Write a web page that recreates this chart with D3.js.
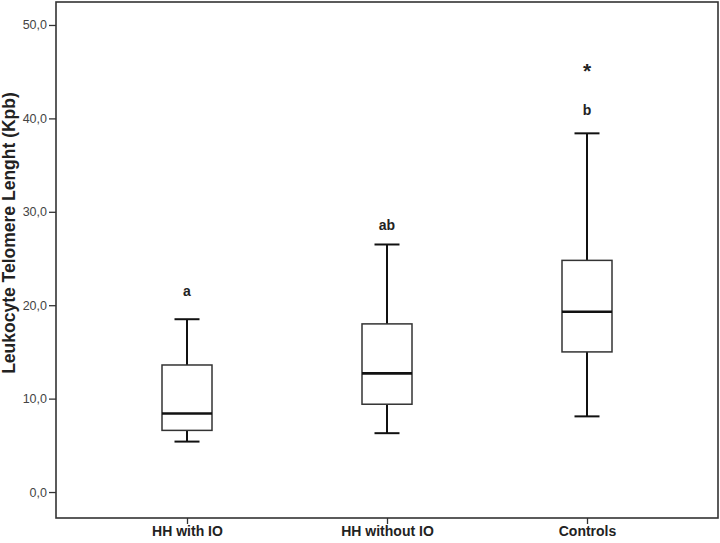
<!DOCTYPE html>
<html>
<head>
<meta charset="utf-8">
<script src="https://cdn.jsdelivr.net/npm/d3@7"></script>
<style>
	body { margin: 0; background: #fff; }
	svg { display: block; font-family: "Liberation Sans", Arial, sans-serif; }
</style>
</head>
<body>
<div id="chart"></div>
<script>
	// data
	var groups = ['HH with IO', 'HH without IO', 'Controls'];
	var whiskerLow = [5.4, 6.3, 8.1];
	var q1 = [6.6, 9.4, 15.0];
	var median = [8.4, 12.7, 19.3];
	var q3 = [13.6, 18.0, 24.8];
	var whiskerHigh = [18.5, 26.5, 38.4];
	var letters = ['a', 'ab', 'b'];
	var letterAt = [21.5, 28.6, 40.9];
	var extremes = [[], [], [45.5]];
	var yTicks = [0, 10, 20, 30, 40, 50];

	var width = 720, height = 543;
	var margin = { top: 2, right: 2, bottom: 25, left: 56 };

	var svg = d3.select('#chart').append('svg')
		.attr('width', width).attr('height', height);

	var x = d3.scalePoint()
		.domain(groups)
		.range([margin.left, width - margin.right])
		.padding(0.655);

	var y = d3.scaleLinear()
		.domain([-2.78, 52.46])
		.range([height - margin.bottom, margin.top]);

	var boxes = groups.map((g, i) => ({
		name: g,
		lo: whiskerLow[i], q1: q1[i], med: median[i], q3: q3[i], hi: whiskerHigh[i],
		letter: letters[i], letterAt: letterAt[i], extremes: extremes[i]
	}));

	var boxW = 50, capW = 25;

	// frame
	svg.append('rect')
		.attr('x', margin.left).attr('y', margin.top)
		.attr('width', width - margin.left - margin.right)
		.attr('height', height - margin.top - margin.bottom)
		.attr('fill', 'none').attr('stroke', '#333').attr('stroke-width', 1.6);

	// axes
	var yAxis = svg.append('g')
		.attr('transform', 'translate(' + margin.left + ',0)')
		.call(d3.axisLeft(y).tickValues(yTicks).tickSize(7).tickPadding(2)
			.tickFormat(d => d3.format('.1f')(d).replace('.', ',')));
	yAxis.select('.domain').remove();
	yAxis.selectAll('line').attr('stroke', '#333').attr('stroke-width', 1.3);
	yAxis.selectAll('text').attr('fill', '#444').style('font-size', '12.5px');

	var xAxis = svg.append('g')
		.attr('transform', 'translate(0,' + (height - margin.bottom) + ')')
		.call(d3.axisBottom(x).tickSize(6).tickPadding(2));
	xAxis.select('.domain').remove();
	xAxis.selectAll('line').attr('stroke', '#333').attr('stroke-width', 1.3);
	xAxis.selectAll('text').attr('fill', '#222')
		.style('font-size', '14px').style('font-weight', 'bold');

	// y title
	svg.append('text')
		.attr('transform', 'translate(15,233) rotate(-90)')
		.attr('text-anchor', 'middle')
		.style('font-size', '17.5px').style('font-weight', 'bold')
		.attr('fill', '#222')
		.text('Leukocyte Telomere Lenght (Kpb)');

	var g = svg.selectAll('.box').data(boxes).enter().append('g')
		.attr('class', 'box')
		.attr('transform', d => 'translate(' + x(d.name) + ',0)');

	// whiskers
	g.append('line')
		.attr('y1', d => y(d.q3)).attr('y2', d => y(d.hi))
		.attr('stroke', '#111').attr('stroke-width', 2);
	g.append('line')
		.attr('y1', d => y(d.q1)).attr('y2', d => y(d.lo))
		.attr('stroke', '#111').attr('stroke-width', 2);
	g.append('line')
		.attr('x1', -capW / 2).attr('x2', capW / 2)
		.attr('y1', d => y(d.hi)).attr('y2', d => y(d.hi))
		.attr('stroke', '#111').attr('stroke-width', 2);
	g.append('line')
		.attr('x1', -capW / 2).attr('x2', capW / 2)
		.attr('y1', d => y(d.lo)).attr('y2', d => y(d.lo))
		.attr('stroke', '#111').attr('stroke-width', 2);

	// box
	g.append('rect')
		.attr('x', -boxW / 2).attr('width', boxW)
		.attr('y', d => y(d.q3)).attr('height', d => y(d.q1) - y(d.q3))
		.attr('fill', '#fff').attr('stroke', '#333').attr('stroke-width', 1.5);

	// median
	g.append('line')
		.attr('x1', -boxW / 2).attr('x2', boxW / 2)
		.attr('y1', d => y(d.med)).attr('y2', d => y(d.med))
		.attr('stroke', '#111').attr('stroke-width', 2.6);

	// group letters
	g.append('text')
		.attr('y', d => y(d.letterAt))
		.attr('dy', '0.35em')
		.attr('text-anchor', 'middle')
		.style('font-size', '14px').style('font-weight', 'bold')
		.attr('fill', '#222')
		.text(d => d.letter);

	// extreme values
	g.selectAll('.extreme').data(d => d.extremes).enter().append('text')
		.attr('class', 'extreme')
		.attr('y', v => y(v))
		.attr('dy', '0.5em')
		.attr('text-anchor', 'middle')
		.style('font-size', '21px').style('font-weight', 'bold')
		.attr('fill', '#222')
		.text('*');
</script>
</body>
</html>
